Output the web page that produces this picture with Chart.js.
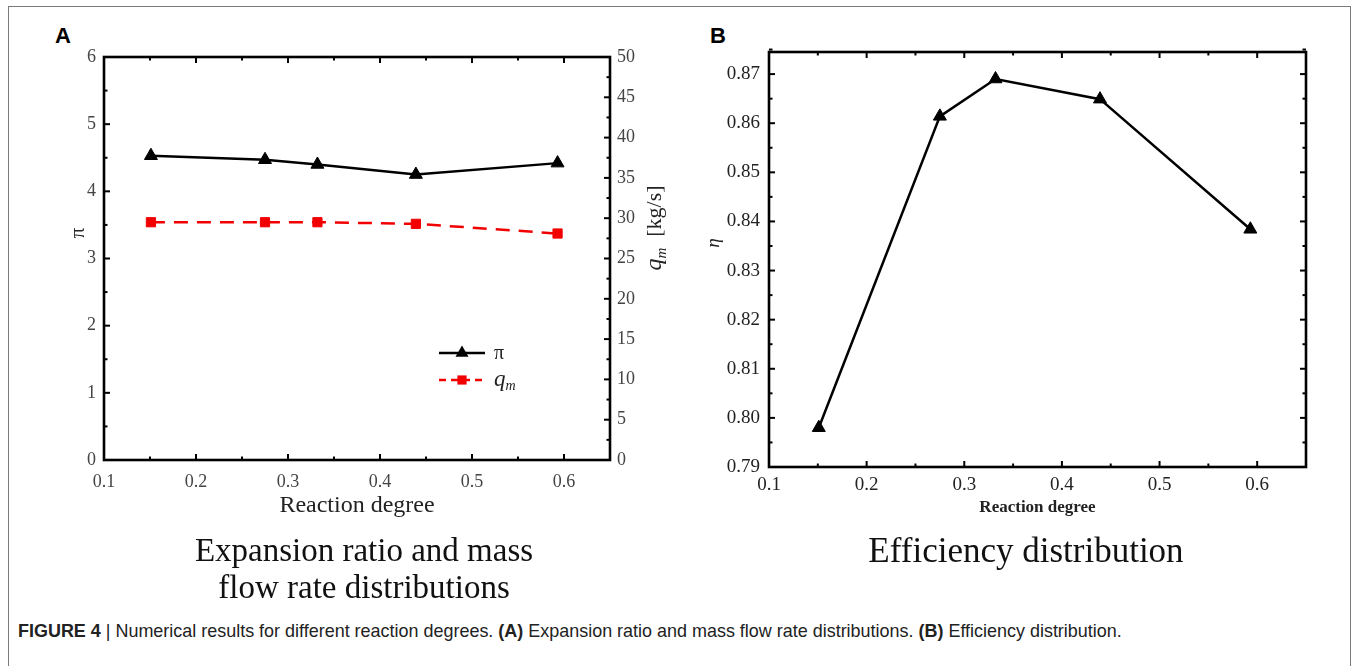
<!DOCTYPE html>
<html><head><meta charset="utf-8">
<script src="https://cdn.jsdelivr.net/npm/chart.js@4.4.0/dist/chart.umd.min.js"></script>
<style>
html,body{margin:0;padding:0;background:#fff;width:1359px;height:666px;overflow:hidden;position:relative;}
#frame{position:absolute;left:8px;top:6px;width:1343px;height:700px;border:1.5px solid #7a7a7a;box-sizing:border-box;}
.panel{position:absolute;font:bold 22px "Liberation Sans",Arial,sans-serif;color:#000;line-height:22px;}
canvas{position:absolute;top:0;}
#cA{left:0;}
#cB{left:680px;}
.sub{position:absolute;font-family:"Liberation Serif","Times New Roman",serif;color:#111;text-align:center;white-space:nowrap;}
#cap{position:absolute;left:18px;top:620px;font:19px "Liberation Sans Narrow","Liberation Sans",Arial,sans-serif;color:#222;white-space:nowrap;transform:scaleX(0.945);transform-origin:0 0;}
</style></head>
<body>
<div id="frame"></div>
<div class="panel" style="left:55px;top:25px;">A</div>
<div class="panel" style="left:710px;top:25px;">B</div>
<canvas id="cA" width="680" height="540" style="width:680px;height:540px"></canvas>
<canvas id="cB" width="679" height="540" style="width:679px;height:540px"></canvas>
<div class="sub" style="left:164px;width:400px;top:532px;font-size:33px;line-height:37px;">Expansion ratio and mass<br>flow rate distributions</div>
<div class="sub" style="left:826px;width:400px;top:531px;font-size:35px;line-height:40px;">Efficiency distribution</div>
<div id="cap"><b>FIGURE 4</b> | Numerical results for different reaction degrees. <b>(A)</b> Expansion ratio and mass flow rate distributions. <b>(B)</b> Efficiency distribution.</div>
<script>
// ---- data ----
const reactionDegree = [0.151, 0.275, 0.332, 0.439, 0.593];
const expansionRatio = [4.53, 4.47, 4.40, 4.25, 4.42];
const massFlowRate   = [29.5, 29.5, 29.5, 29.3, 28.1];
const efficiency     = [0.798, 0.8614, 0.8690, 0.8649, 0.8384];
// ---- tick labels ----
const xTickValues   = [0.1, 0.2, 0.3, 0.4, 0.5, 0.6];
const piTickValues  = [0, 1, 2, 3, 4, 5, 6];
const qmTickValues  = [0, 5, 10, 15, 20, 25, 30, 35, 40, 45, 50];
const etaTickValues = [0.79, 0.80, 0.81, 0.82, 0.83, 0.84, 0.85, 0.86, 0.87];

const SERIF = '"Liberation Serif", "Times New Roman", serif';
Chart.defaults.font.family = SERIF;
Chart.defaults.font.size = 18;
const pts = (ys) => reactionDegree.map((x, i) => ({x: x, y: ys[i]}));
const setTicks = (vals) => (s) => { s.ticks = vals.map(v => ({value: v})); };

// inward ticks + frame
const frameTicks = {
  id: 'frameTicks',
  afterDraw(chart, args, opts) {
    const ctx = chart.ctx, a = chart.chartArea;
    ctx.save();
    ctx.strokeStyle = '#000';
    ctx.lineWidth = 2;
    (opts.specs || []).forEach(sp => {
      const s = chart.scales[sp.id];
      const n = Math.round((s.max - s.min) / sp.minor);
      for (let i = 0; i <= n; i++) {
        const v = s.min + i * sp.minor;
        const r = (v - sp.base) / sp.major;
        const major = Math.abs(r - Math.round(r)) < 1e-6;
        const len = major ? 6 : 3.5;
        const p = s.getPixelForValue(v);
        sp.edges.forEach(e => {
          ctx.beginPath();
          if (e === 'bottom') { ctx.moveTo(p, a.bottom); ctx.lineTo(p, a.bottom - len); }
          if (e === 'top') { ctx.moveTo(p, a.top); ctx.lineTo(p, a.top + len); }
          if (e === 'left') { ctx.moveTo(a.left, p); ctx.lineTo(a.left + len, p); }
          if (e === 'right') { ctx.moveTo(a.right, p); ctx.lineTo(a.right - len, p); }
          ctx.stroke();
        });
      }
    });
    ctx.lineWidth = 2.6;
    ctx.strokeRect(a.left, a.top, a.right - a.left, a.bottom - a.top);
    ctx.restore();
  }
};

// rotated axis titles with rich parts
function drawRich(ctx, parts, x, y, rot) {
  ctx.save();
  ctx.translate(x, y);
  ctx.rotate(rot);
  let total = 0;
  parts.forEach(p => { ctx.font = p.font; p.w = ctx.measureText(p.text).width; total += p.w; });
  let cx = -total / 2;
  ctx.textBaseline = 'alphabetic';
  ctx.textAlign = 'left';
  parts.forEach(p => { ctx.font = p.font; ctx.fillStyle = p.color || '#222'; ctx.fillText(p.text, cx, (p.dy || 0) + 7); cx += p.w; });
  ctx.restore();
}
const axisTitles = {
  id: 'axisTitles',
  afterDraw(chart, args, opts) {
    const a = chart.chartArea;
    (opts.items || []).forEach(it => {
      const x = it.side === 'left' ? a.left + it.dx : a.right + it.dx;
      drawRich(chart.ctx, it.parts, x, it.y, -Math.PI / 2);
    });
  }
};

// custom legend inside plot
const innerLegend = {
  id: 'innerLegend',
  afterDraw(chart, args, opts) {
    if (!opts.items) return;
    const ctx = chart.ctx;
    opts.items.forEach((it, i) => {
      const ds = chart.data.datasets[i];
      const y = opts.y + i * opts.gap;
      ctx.save();
      ctx.strokeStyle = ds.borderColor; ctx.lineWidth = ds.borderWidth;
      ctx.setLineDash(it.dash || []);
      ctx.beginPath(); ctx.moveTo(opts.x, y); ctx.lineTo(opts.x + opts.len, y); ctx.stroke();
      ctx.setLineDash([]);
      ctx.fillStyle = ds.borderColor;
      const mx = opts.x + opts.len / 2, r = ds.pointRadius;
      ctx.beginPath();
      if (ds.pointStyle === 'triangle') {
        ctx.moveTo(mx, y - r); ctx.lineTo(mx + 0.866 * r, y + 0.5 * r); ctx.lineTo(mx - 0.866 * r, y + 0.5 * r); ctx.closePath();
      } else {
        const h = r * Math.SQRT1_2; ctx.rect(mx - h, y - h, 2 * h, 2 * h);
      }
      ctx.fill();
      let tx = opts.x + opts.len + 9;
      ctx.textBaseline = 'alphabetic';
      it.parts.forEach(p => { ctx.font = p.font; ctx.fillStyle = '#222'; ctx.fillText(p.text, tx, y + 6 + (p.dy || 0)); tx += ctx.measureText(p.text).width; });
      ctx.restore();
    });
  }
};

new Chart(document.getElementById('cA'), {
  type: 'line',
  data: {
    datasets: [
      {label: 'π', data: pts(expansionRatio), yAxisID: 'y', borderColor: '#000', backgroundColor: '#000',
       borderWidth: 2.5, pointStyle: 'triangle', pointRadius: 7.5, pointBorderWidth: 1, tension: 0},
      {label: 'qm', data: pts(massFlowRate), yAxisID: 'y2', borderColor: '#f20000', backgroundColor: '#f20000',
       borderWidth: 2.5, borderDash: [14, 9], pointStyle: 'rect', pointRadius: 6.5, pointBorderWidth: 1, tension: 0}
    ]
  },
  options: {
    responsive: false, animation: false, devicePixelRatio: 1,
    layout: {padding: {top: 57, left: 0, right: 0, bottom: 0}},
    plugins: {
      legend: {display: false}, tooltip: {enabled: false},
      frameTicks: {specs: [
        {id: 'x', minor: 0.05, major: 0.1, base: 0.1, edges: ['bottom', 'top']},
        {id: 'y', minor: 0.5, major: 1, base: 0, edges: ['left']},
        {id: 'y2', minor: 2.5, major: 5, base: 0, edges: ['right']}
      ]},
      axisTitles: {items: [
        {side: 'left', dx: -27, y: 233, parts: [{text: 'π', font: '21px ' + SERIF}]},
        {side: 'right', dx: 44, y: 228, parts: [
          {text: 'q', font: 'italic 24px ' + SERIF},
          {text: 'm', font: 'italic 15px ' + SERIF, dy: 5},
          {text: '  [kg/s]', font: '22px ' + SERIF}
        ]}
      ]},
      innerLegend: {x: 439, y: 353, gap: 27, len: 46, items: [
        {parts: [{text: 'π', font: '20px ' + SERIF}]},
        {dash: [7, 5], parts: [{text: 'q', font: 'italic 23px ' + SERIF}, {text: 'm', font: 'italic 14px ' + SERIF, dy: 4}]}
      ]}
    },
    scales: {
      x: {type: 'linear', min: 0.1, max: 0.65, afterBuildTicks: setTicks(xTickValues),
          grid: {display: false, drawTicks: false}, border: {display: false},
          ticks: {font: {family: SERIF, size: 18}, color: '#444', padding: 11, maxRotation: 0, includeBounds: false,
                  callback: v => v.toFixed(1)},
          title: {display: true, text: 'Reaction degree', color: '#222', font: {family: SERIF, size: 24}, padding: {top: 0, bottom: 20}},
          afterFit: s => { s.height = 80; s.paddingLeft = 0; s.paddingRight = 0; }},
      y: {type: 'linear', position: 'left', min: 0, max: 6, afterBuildTicks: setTicks(piTickValues),
          grid: {display: false, drawTicks: false}, border: {display: false},
          ticks: {font: {family: SERIF, size: 18}, color: '#444', padding: 8},
          afterFit: s => { s.width = 104; s.paddingTop = 0; s.paddingBottom = 0; }},
      y2: {type: 'linear', position: 'right', min: 0, max: 50, afterBuildTicks: setTicks(qmTickValues),
          grid: {display: false, drawTicks: false}, border: {display: false},
          ticks: {font: {family: SERIF, size: 18}, color: '#444', padding: 7},
          afterFit: s => { s.width = 70; s.paddingTop = 0; s.paddingBottom = 0; }}
    }
  },
  plugins: [frameTicks, axisTitles, innerLegend]
});

new Chart(document.getElementById('cB'), {
  type: 'line',
  data: {
    datasets: [
      {label: 'η', data: pts(efficiency), borderColor: '#000', backgroundColor: '#000',
       borderWidth: 2.5, pointStyle: 'triangle', pointRadius: 7.5, pointBorderWidth: 1, tension: 0}
    ]
  },
  options: {
    responsive: false, animation: false, devicePixelRatio: 1,
    layout: {padding: {top: 52, left: 0, right: 53, bottom: 0}},
    plugins: {
      legend: {display: false}, tooltip: {enabled: false},
      frameTicks: {specs: [
        {id: 'x', minor: 0.05, major: 0.1, base: 0.1, edges: ['bottom', 'top']},
        {id: 'y', minor: 0.005, major: 0.01, base: 0.79, edges: ['left', 'right']}
      ]},
      axisTitles: {items: [
        {side: 'left', dx: -57, y: 243, parts: [{text: 'η', font: 'italic 19px ' + SERIF}]}
      ]}
    },
    scales: {
      x: {type: 'linear', min: 0.1, max: 0.65, afterBuildTicks: setTicks(xTickValues),
          grid: {display: false, drawTicks: false}, border: {display: false},
          ticks: {font: {family: SERIF, size: 19}, color: '#222', padding: 7, maxRotation: 0, includeBounds: false,
                  callback: v => v.toFixed(1)},
          title: {display: true, text: 'Reaction degree', color: '#222', font: {family: SERIF, size: 17, weight: 'bold'}, padding: {top: 0, bottom: 22}},
          afterFit: s => { s.height = 73; s.paddingLeft = 0; s.paddingRight = 0; }},
      y: {type: 'linear', position: 'left', min: 0.79, max: 0.8745, afterBuildTicks: setTicks(etaTickValues),
          grid: {display: false, drawTicks: false}, border: {display: false},
          ticks: {font: {family: SERIF, size: 19}, color: '#222', padding: 9, includeBounds: false, callback: v => v.toFixed(2)},
          afterFit: s => { s.width = 89; s.paddingTop = 0; s.paddingBottom = 0; }}
    }
  },
  plugins: [frameTicks, axisTitles]
});
</script>
</body></html>
